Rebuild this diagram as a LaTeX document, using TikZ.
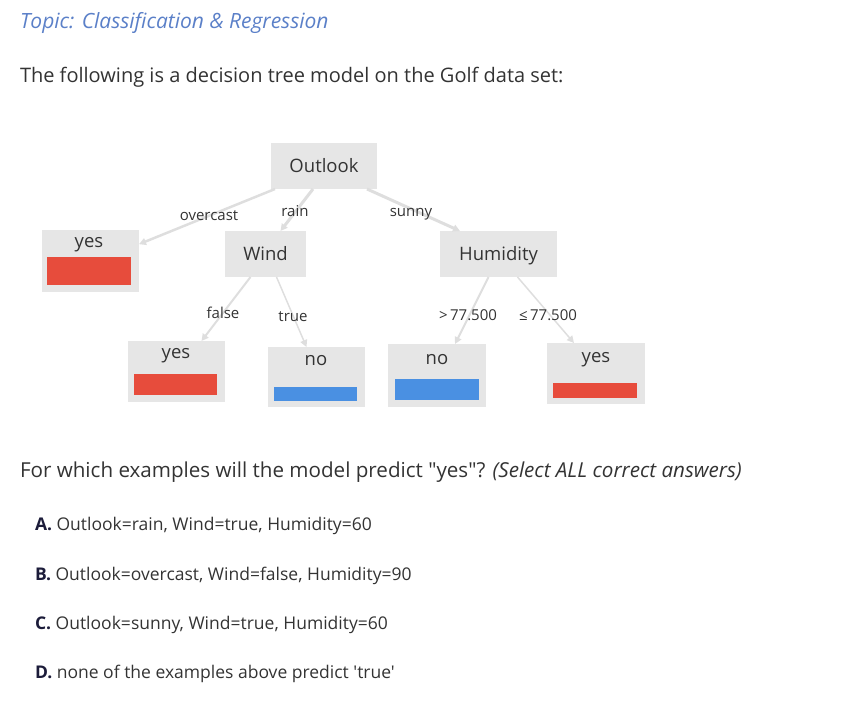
\documentclass[tikz,border=0pt]{standalone}
\usepackage{fontspec}
\setmainfont{Open Sans}[Ligatures=TeXOff]
\usepackage{xcolor}
\usepackage{tikz}
\usetikzlibrary{positioning,arrows.meta}
\definecolor{boxgrey}{HTML}{E6E6E6}
\definecolor{edgegrey}{HTML}{DEDEDE}
\definecolor{yesred}{HTML}{E74C3C}
\definecolor{noblue}{HTML}{4A90E2}
\definecolor{topicblue}{HTML}{5B80C8}
\definecolor{inktext}{HTML}{333333}
\definecolor{letterink}{HTML}{1C1C3A}

\begin{document}
\begin{tikzpicture}[x=1pt, y=-1pt, every node/.style={inner sep=0pt, outer sep=0pt, text=inktext},
  splitbox/.style={rectangle, fill=boxgrey, text height=13pt, text depth=0pt, font=\fontsize{18.5}{21}\selectfont},
  leafbox/.style={rectangle, fill=boxgrey},
  leaftxt/.style={anchor=base, font=\fontsize{18.5}{21}\selectfont},
  yesbar/.style={rectangle, fill=yesred},
  nobar/.style={rectangle, fill=noblue},
  branch/.style={draw=edgegrey, line width=2pt, -{Triangle[length=7pt,width=7pt]}},
  branchlbl/.style={anchor=base, font=\fontsize{15}{17}\selectfont},
  qtext/.style={anchor=base west, font=\fontsize{20}{23}\selectfont},
  answer/.style={anchor=base west, font=\fontsize{17.5}{20}\selectfont}]
  \useasboundingbox (0,0) rectangle (841,718);

  \node[qtext, text=topicblue, font=\fontsize{21}{24}\selectfont\itshape] (topic) at (20,28) {Topic: Classification \& Regression};
  \node[qtext] (intro) at (20,82) {The following is a decision tree model on the Golf data set:};

  \node[splitbox, minimum width=106pt, minimum height=46pt] (outlook) at (324,166) {Outlook};
  \node[splitbox, minimum width=81pt, minimum height=46pt] (wind) at (265.5,254) {Wind};
  \node[splitbox, minimum width=117pt, minimum height=46pt] (humidity) at (498.5,254) {Humidity};

  \node[leafbox, minimum width=97pt, minimum height=62pt] (yes1) at (90.5,261) {};
  \node[leaftxt] (yes1txt) at (89,247) {yes};
  \node[yesbar, minimum width=84pt, minimum height=28pt] (yes1bar) at (89,271) {};

  \node[leafbox, minimum width=97pt, minimum height=61pt] (yes2) at (176.5,371.5) {};
  \node[leaftxt] (yes2txt) at (176,358) {yes};
  \node[yesbar, minimum width=83pt, minimum height=21pt] (yes2bar) at (175.5,384.5) {};

  \node[leafbox, minimum width=97pt, minimum height=60pt] (no1) at (316.5,377) {};
  \node[leaftxt] (no1txt) at (316,365) {no};
  \node[nobar, minimum width=83pt, minimum height=14pt] (no1bar) at (315.5,394) {};

  \node[leafbox, minimum width=98pt, minimum height=63pt] (no2) at (437,375.5) {};
  \node[leaftxt] (no2txt) at (437,364) {no};
  \node[nobar, minimum width=84pt, minimum height=21pt] (no2bar) at (437,389.5) {};

  \node[leafbox, minimum width=98pt, minimum height=61pt] (yes3) at (596,373.5) {};
  \node[leaftxt] (yes3txt) at (596,362) {yes};
  \node[yesbar, minimum width=84pt, minimum height=15pt] (yes3bar) at (595,390) {};

  \draw[branch, line width=2.5pt] ([xshift=-49pt]outlook.south) -- (yes1txt -| yes1.east);
  \draw[branch, line width=3pt] ([xshift=-11pt]outlook.south) -- ([xshift=15pt]wind.north);
  \draw[branch, line width=3pt] ([xshift=-10pt]outlook.south east) -- ([xshift=20pt]humidity.north west);
  \draw[branch] ([xshift=-15pt]wind.south) -- ([xshift=25pt]yes2.north);
  \draw[branch, line width=1.5pt] ([xshift=11pt]wind.south) -- ([xshift=-10pt]no1.north);
  \draw[branch] ([xshift=-10pt]humidity.south) -- ([xshift=18pt]no2.north);
  \draw[branch, line width=1.5pt] ([xshift=19pt]humidity.south) -- ([xshift=-22pt]yes3.north);

  \node[branchlbl] (lblovercast) at (209,220) {overcast};
  \node[branchlbl] (lblrain) at (295,216) {rain};
  \node[branchlbl] (lblsunny) at (411,216) {sunny};
  \node[branchlbl] (lblfalse) at (223,318) {false};
  \node[branchlbl] (lbltrue) at (293,321) {true};
  \node[branchlbl] (lblgreater) at (468,320) {>\,77.500};
  \node[branchlbl] (lblless) at (548,320) {≤\,77.500};

  \node[qtext, font=\fontsize{20.6}{23}\selectfont] (question) at (20,477) {For which examples will the model predict "yes"? \textit{(Select ALL correct answers)}};
  \node[answer] (ansa) at (35,530) {\textcolor{letterink}{\textbf{A.}} Outlook=rain, Wind=true, Humidity=60};
  \node[answer] (ansb) at (35,580) {\textcolor{letterink}{\textbf{B.}} Outlook=overcast, Wind=false, Humidity=90};
  \node[answer] (ansc) at (35,629) {\textcolor{letterink}{\textbf{C.}} Outlook=sunny, Wind=true, Humidity=60};
  \node[answer] (ansd) at (35,678) {\textcolor{letterink}{\textbf{D.}} none of the examples above predict 'true'};
\end{tikzpicture}
\end{document}
